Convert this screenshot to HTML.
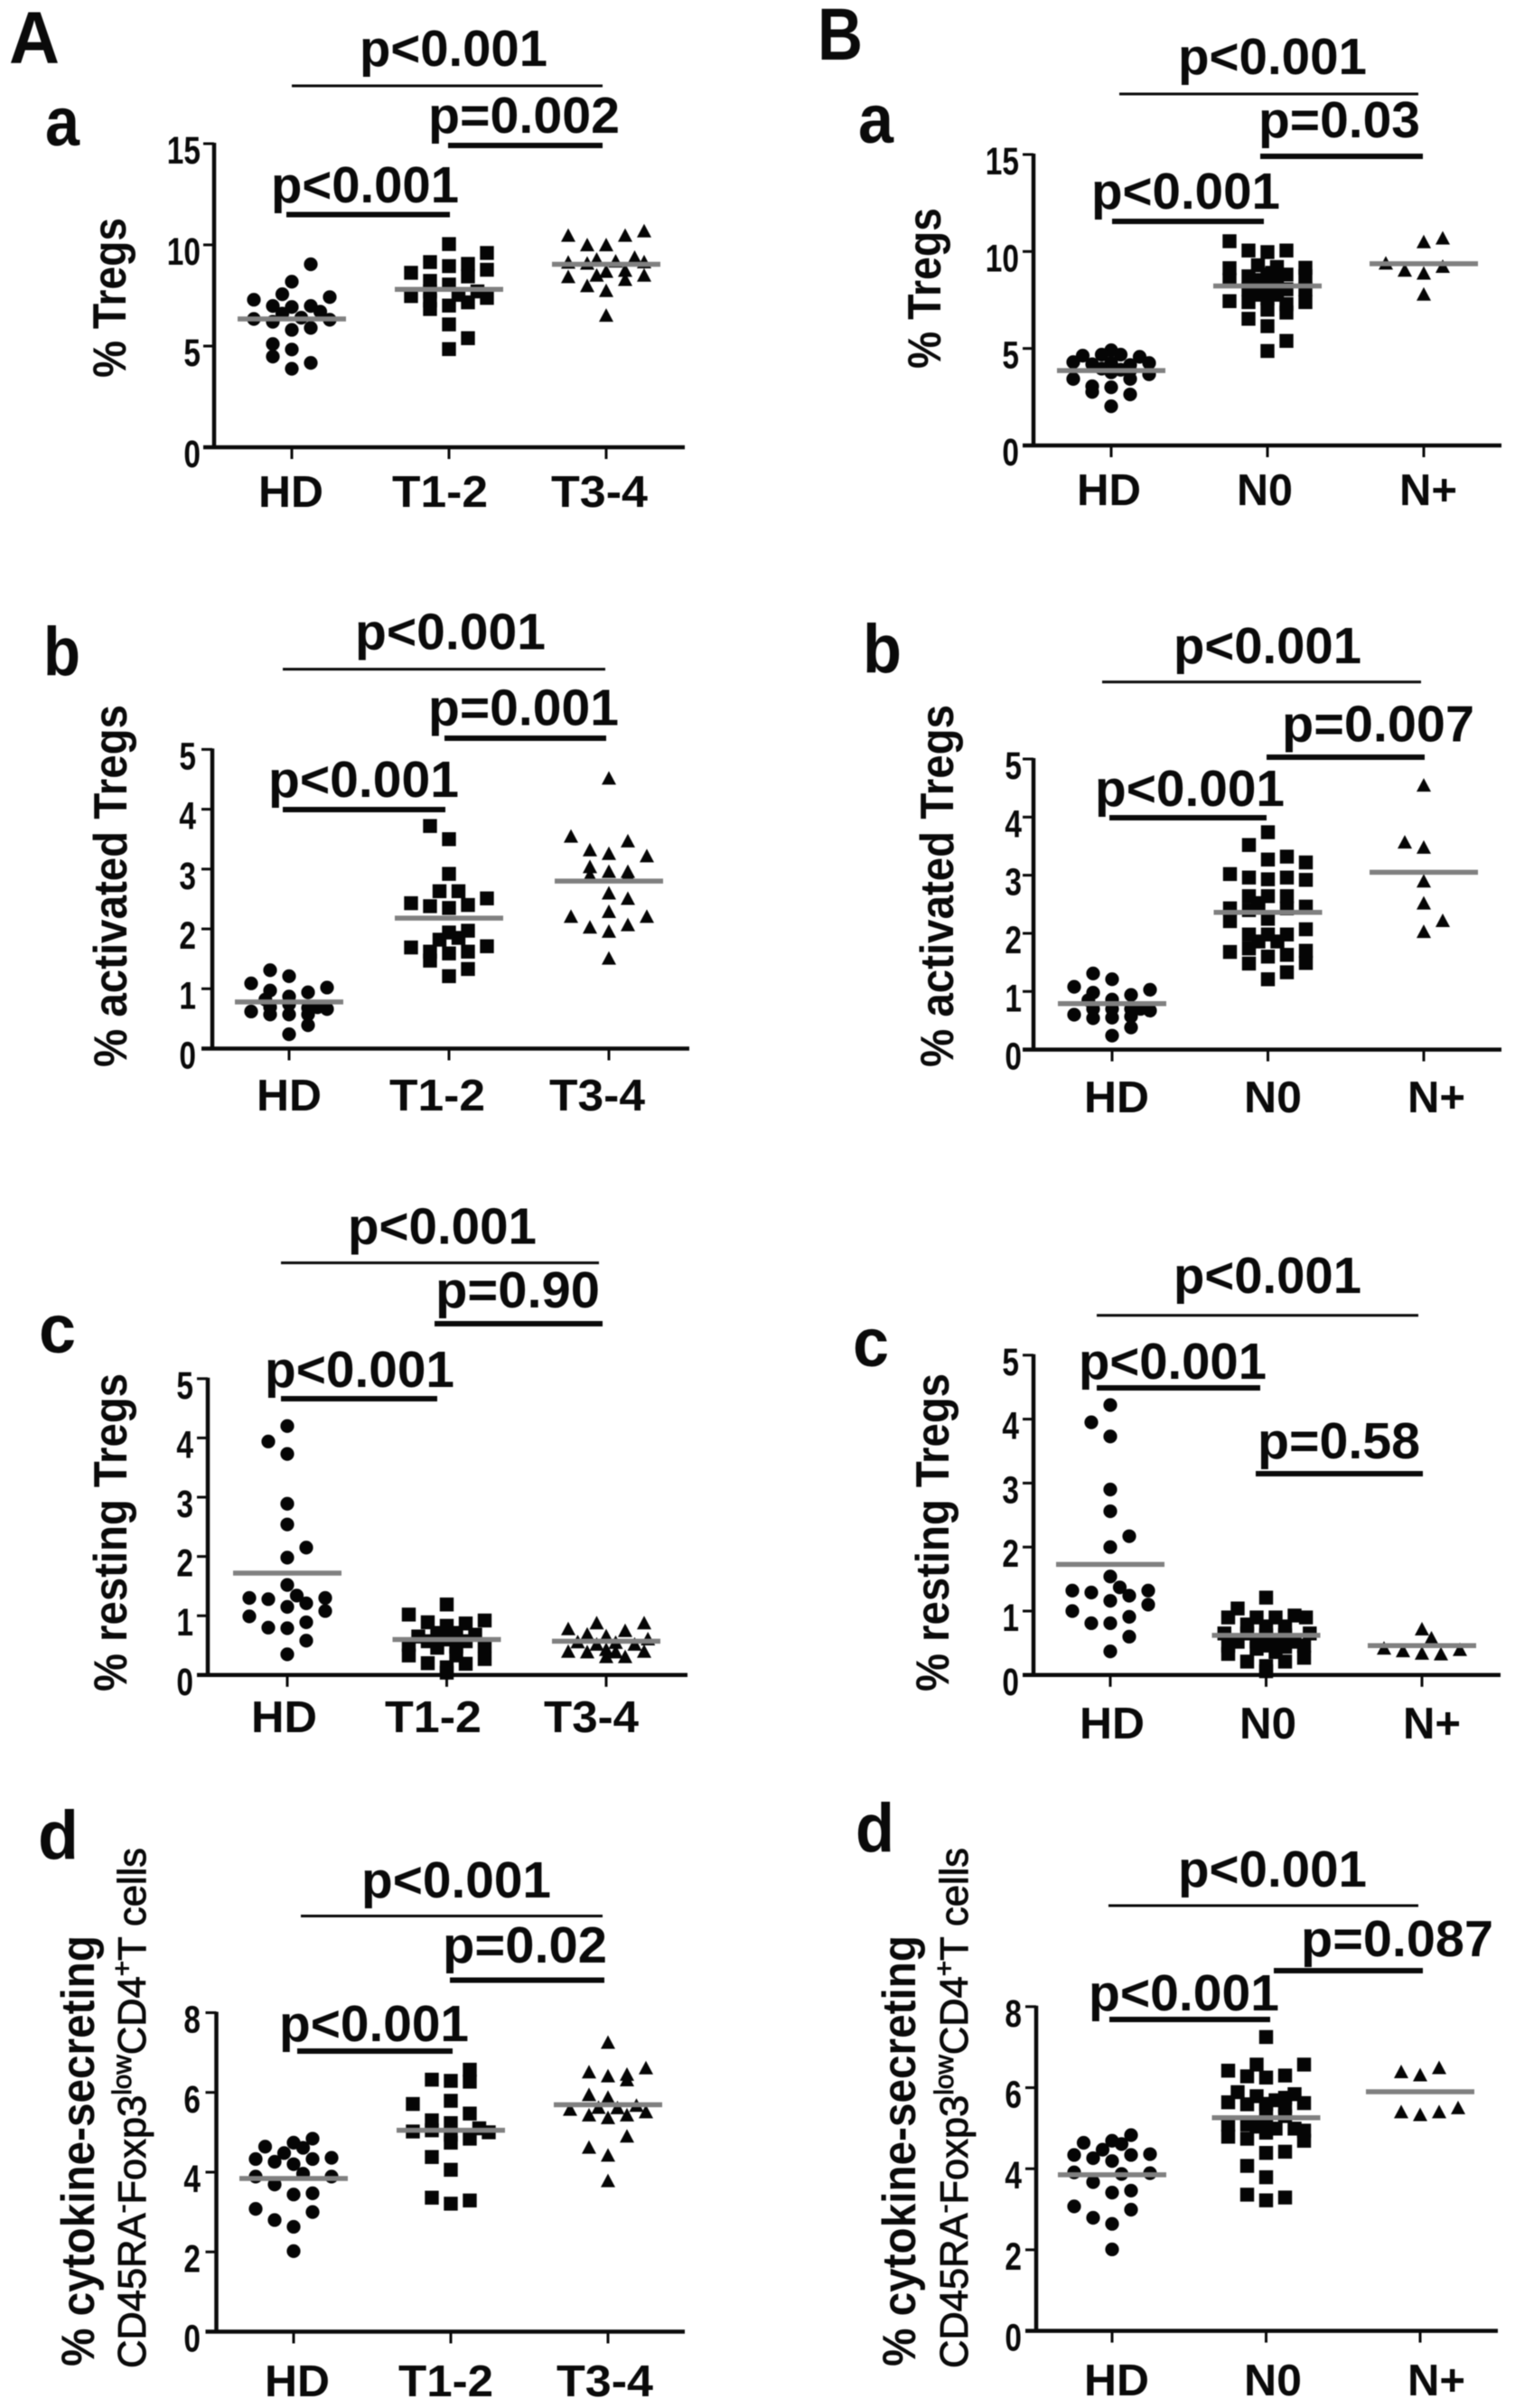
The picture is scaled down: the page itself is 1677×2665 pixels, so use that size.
<!DOCTYPE html>
<html lang="en">
<head>
<meta charset="utf-8">
<title>Treg percentages by group</title>
<style>
html,body{margin:0;padding:0;background:#fff;}
svg{display:block;filter:blur(.45px);}
text{font-family:"Liberation Sans",Arial,sans-serif;font-weight:bold;fill:#0a0a0a;}
</style>
</head>
<body>
<svg id="figure" xmlns="http://www.w3.org/2000/svg" width="1677" height="2665" viewBox="0 0 1677 2665"></svg>
<script>
// ---- shared categories and ticks ----
const categoriesStage = ['HD', 'T1-2', 'T3-4'];
const categoriesNode = ['HD', 'N0', 'N+'];
const ticksTregs = [0, 5, 10, 15];
const ticksFive = [0, 1, 2, 3, 4, 5];
const ticksCytokine = [0, 2, 4, 6, 8];

// ---- A-a ----
const aaHdValues = [9.04,8.18,7.56,7.42,7.29,6.98,6.93,6.98,6.7,6.6,6.34,6.2,6.4,6.3,5.8,5.9,5.1,4.83,4.48,4.17,3.88];
const aaHdSlots = [1,0,-.5,2,-2,-1,0,1,1.5,-.5,-2,-1,.5,2,0,1,-1,0,-1,1,0];
const aaT12Values = [10.04,9.6,9.15,9.06,8.95,8.77,8.62,8.44,8.22,8.04,7.7,7.7,7.47,7.38,7.25,7.53,7.16,7.0,6.83,6.07,5.39,4.85];
const aaT12Slots = [0,2,-1,1,0,2,-2,1,-1,0,-1,1.5,-2,2,-1,.5,1,0,-1,0,1,0];
const aaT34Values = [10.66,10.44,10.44,9.97,9.97,9.35,9.26,9.11,9.06,9.17,9.13,8.71,8.4,8.47,8.66,8.47,8.26,7.95,7.71,6.49];
const aaT34Slots = [2,-2,1,-1,0,1.5,-.5,-2,-1,.5,2,1,-2,-.5,0,2,1,-1,0,0];
const aaMeans = [6.34,7.8,9.04];

// ---- B-a ----
const baHdValues = [4.91,4.63,4.68,4.68,4.57,4.3,4.19,4.25,4.15,4.25,3.96,3.9,3.86,3.77,3.67,3.43,3.43,3.05,3.0,2.76,2.63,2.02];
const baHdSlots = [0,-1.5,-.5,.5,1.5,-2,-1,0,1,2,-.5,.5,1,0,2,-2,1,-1,0,-1,1,0];
const baN0Values = [10.53,10.05,9.97,10.05,9.14,9.29,9.2,9.16,8.81,8.72,8.81,8.72,8.53,8.53,8.62,8.24,8.05,8.05,8.05,7.77,7.77,7.44,7.39,7.39,7.58,7.29,7.0,6.85,6.53,6.15,5.39,4.87,8.9,8.4];
const baN0Slots = [-2,-1,0,1,-2,-.5,.5,2,0,-1,1,2,-2,-.5,.5,0,-1,1,2,-.5,.5,-2,2,-1,0,1,0,1,-1,0,1,0,.25,-.25];
const baNpValues = [10.66,10.47,9.37,9.2,9.0,8.85,7.77];
const baNpSlots = [1,0,-2,1,-1,0,0];
const baMeans = [3.86,8.22,9.37];

// ---- A-b ----
const abHdValues = [1.31,1.21,1.09,1.02,.97,.94,.87,.82,.62,.57,.57,.57,.66,.74,.68,.69,.39,.24,.69];
const abHdSlots = [-1,0,-2,2,-1,1,0,-1.25,-2,-1,0,1,2,0,1,-1,1,0,1.5];
const abT12Values = [3.72,3.5,2.92,2.63,2.63,2.51,2.43,2.38,2.4,2.35,1.97,1.94,1.82,1.85,1.71,1.69,1.62,1.62,1.59,1.47,1.33,1.21];
const abT12Slots = [-1,0,0,-.5,.5,2,-2,-1,1,0,1,0,-.5,.5,2,-2,1,-1,0,-1,1,0];
const abT34Values = [4.51,3.54,3.46,3.31,3.25,3.21,3.03,2.95,2.95,2.89,2.89,2.59,2.5,2.28,2.2,2.2,2.06,2.02,1.95,1.5];
const abT34Slots = [0,-2,1,-1,0,2,-1,0,1,-1,1,0,1,0,-2,2,1,-1,0,0];
const abMeans = [.78,2.18,2.8];

// ---- B-b ----
const bbHdValues = [1.31,1.21,1.08,1.03,.98,.94,.86,.85,.6,.54,.55,.57,.67,.7,.7,.7,.7,.38,.24];
const bbHdSlots = [-1,0,-2,2,-1,1,0,-1.25,-2,-1,0,1,2,0,1,-1,1.5,1,0];
const bbN0Values = [3.74,3.52,3.32,3.27,3.22,3.02,2.96,2.93,2.96,2.92,2.64,2.64,2.64,2.52,2.43,2.4,2.43,2.46,2.25,2.21,2.07,1.98,1.98,1.98,1.86,1.86,1.68,1.74,1.7,1.6,1.63,1.48,1.49,1.33,1.21];
const bbN0Slots = [0,-1,1,0,2,-2,-1,0,1,2,-1,0,1,-.5,-2,-1,1,2,0,-2,2,-1,0,1,-.5,.5,-2,-1,2,0,1,-1,2,1,0];
const bbNpValues = [4.54,3.56,3.47,2.89,2.51,2.21,2.02];
const bbNpSlots = [0,-1,0,0,0,1,0];
const bbMeans = [.79,2.36,3.05];

// ---- A-c ----
const acHdValues = [4.2,3.94,3.73,2.89,2.54,2.15,1.98,1.52,1.3,1.28,1.34,1.3,1.21,1.15,1.08,.99,.89,.8,.79,.58,.35];
const acHdSlots = [0,-1,0,0,0,1,0,0,-2,-1,.5,2,1,0,2,-2,1,-1,0,1,0];
const acT12Values = [1.19,1.02,.89,.92,.87,.83,.65,.71,.71,.68,.57,.6,.57,.51,.46,.48,.5,.33,.33,.2,.19,.27,.13,.04];
const acT12Slots = [0,-2,-1,2,1,0,-1.5,-.5,.5,1.5,-1,0,1,-2,-.5,.5,2,-2,.5,-1,1,2,0,0];
const acT34Values = [.87,.87,.77,.74,.68,.65,.6,.55,.51,.54,.51,.39,.38,.42,.38,.39,.3,.3];
const acT34Slots = [-.5,2,-2,1,-1,0,2.2,-1.5,-.5,.5,1.5,-2,-1,0,.5,2,0,1];
const acMeans = [1.72,.6,.57];

// ---- B-c ----
const bcHdValues = [4.22,3.95,3.73,2.9,2.56,2.17,2.0,1.54,1.32,1.29,1.37,1.32,1.24,1.16,1.1,1.0,.91,.81,.81,.6,.37];
const bcHdSlots = [0,-1,0,0,0,1,0,0,-2,-1,.5,2,1,0,2,-2,1,-1,0,1,0];
const bcN0Values = [1.21,1.04,.9,.9,.9,.93,.9,.79,.76,.76,.65,.65,.62,.62,.65,.52,.52,.52,.52,.46,.46,.46,.33,.36,.27,.21,.21,.14,.06,.41,.44];
const bcN0Slots = [0,-1.5,-2,-.5,.5,1.5,2.1,-1,0,1,-2.2,-1,0,1,2.3,-1.5,-.5,.5,1.5,-2,0,2,-2,.5,2,-1,1,0,0,-.5,1];
const bcNpValues = [.71,.57,.41,.37,.33,.32,.39];
const bcNpSlots = [0,.5,-2,-1,0,1,2];
const bcMeans = [1.73,.62,.46];

// ---- A-d ----
const adHdValues = [4.84,4.74,4.64,4.61,4.48,4.33,4.33,4.36,4.26,4.2,3.96,3.89,3.89,3.69,3.44,3.47,3.08,3.0,2.8,2.63,2.02];
const adHdSlots = [1,0,-1.5,.5,-.5,-2,1,2,-1,0,.5,-2,2,-1,0,1,-2,1,-1,0,0];
const adT12Values = [6.57,6.27,6.32,6.29,5.79,5.71,5.47,5.3,5.23,5.02,5.1,5.0,5.05,4.94,4.84,4.74,4.38,4.06,3.36,3.29,3.21];
const adT12Slots = [1,1,-1,0,0,-2,1,-1,0,-2,1.5,2,-1,0,1,0,-1,0,-1,1,0];
const adT34Values = [7.24,6.6,6.5,6.4,6.44,6.3,5.93,5.86,5.56,5.61,5.66,5.5,5.42,5.42,5.35,5.6,4.89,4.61,4.41,3.77];
const adT34Slots = [0,2,-1,0,1,1,-1,0,-2,-.5,1.5,2,-1,1,0,.5,1,-1,0,0];
const adMeans = [3.84,5.05,5.69];

// ---- B-d ----
const bdHdValues = [4.83,4.69,4.64,4.61,4.47,4.34,4.34,4.36,4.26,4.19,3.87,3.91,3.89,3.67,3.41,3.46,3.07,2.99,2.79,2.64,2.01];
const bdHdSlots = [1,0,-1.5,.5,-.5,-2,1,2,-1,0,.5,-2,2,-1,0,1,-2,1,-1,0,0];
const bdN0Values = [7.25,6.57,6.57,6.42,6.28,6.25,6.3,5.89,5.79,5.84,5.64,5.69,5.59,5.62,5.54,5.44,5.09,5.09,4.99,5.04,4.99,4.94,4.79,4.89,4.74,4.69,4.39,4.42,4.07,3.79,3.36,3.29,3.22,5.6,5.15,5.3,5.75];
const bdN0Slots = [0,2,-.5,-2,-1,0,1,-1.5,-.5,1.5,-2,.5,-1,2,1,0,-1,-2,.5,-.5,1.5,2,-2,0,-1,2,0,1,-1,0,-1,1,0,0,0,1,1];
const bdNpValues = [6.48,6.38,6.3,5.49,5.39,5.39,5.32];
const bdNpSlots = [1,-1,0,2,-1,1,0];
const bdMeans = [3.85,5.26,5.9];

// ---- drawing ----
const NS = 'http://www.w3.org/2000/svg';
const root = document.getElementById('figure');
const SLOT_W = 21, MEAN_HALF = 60;

function makeGroup(parent, name) {
  const g = document.createElementNS(NS, 'g');
  
  
  parent.appendChild(g);
  return g;
}
function line(parent, name, x1, y1, x2, y2, w, color) {
  const el = document.createElementNS(NS, 'line');
  el.setAttribute('x1', x1); el.setAttribute('y1', y1);
  el.setAttribute('x2', x2); el.setAttribute('y2', y2);
  el.setAttribute('stroke', color || '#0a0a0a');
  el.setAttribute('stroke-width', w);
  
  
  parent.appendChild(el);
  return el;
}
function label(parent, name, str, x, y, size, len) {
  const el = document.createElementNS(NS, 'text');
  el.setAttribute('x', x); el.setAttribute('y', y);
  el.setAttribute('font-size', size);
  if (len) { el.setAttribute('textLength', len); el.setAttribute('lengthAdjust', 'spacingAndGlyphs'); }
  el.textContent = str;
  
  
  parent.appendChild(el);
  return el;
}
function rotatedLabel(parent, name, str, x, yBottom, yTop, size) {
  const el = label(parent, name, str, 0, 0, size, yBottom - yTop);
  el.setAttribute('transform', 'translate(' + x + ' ' + yBottom + ') rotate(-90)');
  return el;
}
function marker(parent, shape, cx, cy) {
  let el;
  if (shape === 'circle') {
    el = document.createElementNS(NS, 'circle');
    el.setAttribute('cx', cx); el.setAttribute('cy', cy); el.setAttribute('r', 7.6);
  } else if (shape === 'square') {
    el = document.createElementNS(NS, 'rect');
    el.setAttribute('x', cx - 7.7); el.setAttribute('y', cy - 7.7);
    el.setAttribute('width', 15.4); el.setAttribute('height', 15.4);
  } else {
    el = document.createElementNS(NS, 'polygon');
    el.setAttribute('points', cx + ',' + (cy - 8.5) + ' ' + (cx + 8) + ',' + (cy + 6.5) + ' ' + (cx - 8) + ',' + (cy + 6.5));
  }
  el.setAttribute('fill', '#050505');
  
  
  parent.appendChild(el);
}

function drawPanel(p) {
  const g = makeGroup(root, 'panel-' + p.id);
  const yScale = v => p.y0 - v / p.yMax * (p.y0 - p.yTop);
  const xCat = i => p.x0 + i * p.step;

  // axes
  const axes = makeGroup(g, 'axes');
  line(axes, 'y-axis', p.axisX, p.yTop - 1, p.axisX, p.y0 + 1.5, 4.5);
  line(axes, 'x-axis', p.axisX - 12, p.y0, p.right, p.y0, 4.5);
  p.ticks.forEach((t, i) => {
    const y = yScale(t);
    if (t !== 0) line(axes, 'y-tick', p.axisX - 12, y, p.axisX, y, 3);
    const str = String(t);
    const w = str.length * 18.6;
    label(axes, 'y-tick-label', str, p.tickRight - w, y + 22, 43, w);
  });
  p.cats.forEach((c, i) => {
    line(axes, 'x-tick', xCat(i), p.y0, xCat(i), p.y0 + 13, 3);
    const lab = p.catBoxes[i];
    label(axes, 'x-category-label', c, lab[0], p.catBase, 49, lab[1] - lab[0]);
  });

  // series
  p.series.forEach((s, i) => {
    const sg = makeGroup(g, 'series-' + p.cats[i].toLowerCase().replace('+', '-pos'));
    s.values.forEach((v, k) => marker(sg, s.shape, xCat(i) + s.slots[k] * SLOT_W, yScale(v)));
    line(sg, 'mean-line', xCat(i) - MEAN_HALF, yScale(p.means[i]), xCat(i) + MEAN_HALF, yScale(p.means[i]), 5.5, '#808080');
  });

  // significance brackets
  const sig = makeGroup(g, 'significance');
  p.brackets.forEach(b => {
    line(sig, 'significance-bar', b.x1, b.y, b.x2, b.y, b.w);
    label(sig, 'p-value-label', b.text, b.tx1, b.base, 57, b.tx2 - b.tx1);
  });

  // titles
  label(g, 'panel-letter', p.letter[0], p.letter[1], p.letter[2], 76, p.letter[3]);
  p.titles(g);
}

label(root, 'section-a-label', 'A', 10, 70, 82, 56);
label(root, 'section-b-label', 'B', 905, 66, 82, 50);

function title2(g, x) {
  const el = document.createElementNS(NS, 'text');
  el.setAttribute('transform', 'translate(' + x + ' 2621) rotate(-90)');
  el.setAttribute('font-size', 44);
  el.setAttribute('textLength', 576);
  el.setAttribute('lengthAdjust', 'spacingAndGlyphs');
  el.setAttribute('style', 'font-weight:normal;stroke:#0a0a0a;stroke-width:.9px');
  
  
  const parts = [['CD45RA',0],['-',1],['Foxp3',0],['low',1],['CD4',0],['+',1],['T cells',0]];
  parts.forEach(part => {
    const t = document.createElementNS(NS, 'tspan');
    t.textContent = part[0];
    if (part[1]) { t.setAttribute('font-size', 30); t.setAttribute('dy', -16); }
    else if (el.childNodes.length) { t.setAttribute('dy', 16); }
    el.appendChild(t);
  });
  g.appendChild(el);
}

drawPanel({id:'a-a', axisX:237, y0:495, yTop:159, yMax:15, ticks:ticksTregs, tickRight:222, x0:323, step:174, right:758,
  cats:categoriesStage, catBoxes:[[286,358],[434,540],[610,717]], catBase:561,
  series:[{values:aaHdValues,slots:aaHdSlots,shape:'circle'},{values:aaT12Values,slots:aaT12Slots,shape:'square'},{values:aaT34Values,slots:aaT34Slots,shape:'triangle'}],
  means:aaMeans,
  brackets:[{x1:323,x2:667,y:95,w:3,text:'p<0.001',tx1:398,tx2:606,base:73},
            {x1:496,x2:667,y:161,w:6,text:'p=0.002',tx1:474,tx2:686,base:147},
            {x1:317,x2:498,y:237.5,w:6,text:'p<0.001',tx1:300,tx2:508,base:224}],
  letter:['a',50,161,38],
  titles:g=>{rotatedLabel(g,'y-axis-title','% Tregs',139,418,241,52);}});

drawPanel({id:'b-a', axisX:1144, y0:493, yTop:171, yMax:15, ticks:ticksTregs, tickRight:1128, x0:1230, step:173, right:1662,
  cats:categoriesNode, catBoxes:[[1192,1263],[1369,1431],[1549,1613]], catBase:559,
  series:[{values:baHdValues,slots:baHdSlots,shape:'circle'},{values:baN0Values,slots:baN0Slots,shape:'square'},{values:baNpValues,slots:baNpSlots,shape:'triangle'}],
  means:baMeans,
  brackets:[{x1:1239,x2:1570,y:104,w:3,text:'p<0.001',tx1:1304,tx2:1513,base:82},
            {x1:1395,x2:1575,y:173,w:6,text:'p=0.03',tx1:1393,tx2:1572,base:152},
            {x1:1231,x2:1399,y:245,w:6,text:'p<0.001',tx1:1208,tx2:1417,base:231}],
  letter:['a',950,158,39],
  titles:g=>{rotatedLabel(g,'y-axis-title','% Tregs',1041,408,230,52);}});

drawPanel({id:'a-b', axisX:235, y0:1160.5, yTop:829.4, yMax:5, ticks:ticksFive, tickRight:217, x0:320, step:177, right:763,
  cats:categoriesStage, catBoxes:[[284,356],[431,537],[608,714]], catBase:1229,
  series:[{values:abHdValues,slots:abHdSlots,shape:'circle'},{values:abT12Values,slots:abT12Slots,shape:'square'},{values:abT34Values,slots:abT34Slots,shape:'triangle'}],
  means:abMeans,
  brackets:[{x1:313,x2:670,y:740.6,w:3,text:'p<0.001',tx1:393,tx2:604,base:718.5},
            {x1:492,x2:671,y:817,w:6,text:'p=0.001',tx1:474,tx2:685,base:802.6},
            {x1:313,x2:493,y:896,w:6,text:'p<0.001',tx1:297,tx2:508,base:882}],
  letter:['b',48,747,41],
  titles:g=>{rotatedLabel(g,'y-axis-title','% activated Tregs',140,1181,780,52);}});

drawPanel({id:'b-b', axisX:1144, y0:1161.6, yTop:840, yMax:5, ticks:ticksFive, tickRight:1131, x0:1231, step:172.5, right:1662,
  cats:categoriesNode, catBoxes:[[1200,1272],[1377,1441],[1558,1622]], catBase:1231,
  series:[{values:bbHdValues,slots:bbHdSlots,shape:'circle'},{values:bbN0Values,slots:bbN0Slots,shape:'square'},{values:bbNpValues,slots:bbNpSlots,shape:'triangle'}],
  means:bbMeans,
  brackets:[{x1:1220,x2:1573,y:754.8,w:3,text:'p<0.001',tx1:1299,tx2:1507,base:733.8},
            {x1:1402,x2:1577,y:838,w:6,text:'p=0.007',tx1:1419,tx2:1632,base:820.6},
            {x1:1228,x2:1402,y:905,w:6,text:'p<0.001',tx1:1212,tx2:1422,base:892}],
  letter:['b',955,744,43],
  titles:g=>{rotatedLabel(g,'y-axis-title','% activated Tregs',1055,1181,780,52);}});

drawPanel({id:'a-c', axisX:230, y0:1853.8, yTop:1525.8, yMax:5, ticks:ticksFive, tickRight:214, x0:318, step:176.5, right:761,
  cats:categoriesStage, catBoxes:[[278,351],[426,533],[602,707]], catBase:1917,
  series:[{values:acHdValues,slots:acHdSlots,shape:'circle'},{values:acT12Values,slots:acT12Slots,shape:'square'},{values:acT34Values,slots:acT34Slots,shape:'triangle'}],
  means:acMeans,
  brackets:[{x1:311,x2:663,y:1397.6,w:3,text:'p<0.001',tx1:385,tx2:594,base:1376.5},
            {x1:481,x2:667,y:1465,w:6,text:'p=0.90',tx1:482,tx2:664,base:1447},
            {x1:311,x2:484,y:1548,w:6,text:'p<0.001',tx1:293,tx2:503,base:1535}],
  letter:['c',43,1497,41],
  titles:g=>{rotatedLabel(g,'y-axis-title','% resting Tregs',140,1872,1520,52);}});

drawPanel({id:'b-c', axisX:1144, y0:1853.8, yTop:1499.8, yMax:5, ticks:ticksFive, tickRight:1128, x0:1229, step:172.5, right:1661,
  cats:categoriesNode, catBoxes:[[1195,1267],[1372,1435],[1553,1617]], catBase:1924,
  series:[{values:bcHdValues,slots:bcHdSlots,shape:'circle'},{values:bcN0Values,slots:bcN0Slots,shape:'square'},{values:bcNpValues,slots:bcNpSlots,shape:'triangle'}],
  means:bcMeans,
  brackets:[{x1:1214,x2:1570,y:1455.8,w:3,text:'p<0.001',tx1:1299,tx2:1507,base:1431},
            {x1:1214,x2:1395,y:1536,w:6,text:'p<0.001',tx1:1194,tx2:1402,base:1526},
            {x1:1390,x2:1575,y:1631,w:6,text:'p=0.58',tx1:1392,tx2:1572,base:1614}],
  letter:['c',944,1512,40],
  titles:g=>{rotatedLabel(g,'y-axis-title','% resting Tregs',1050,1872,1520,52);}});

drawPanel({id:'a-d', axisX:239.5, y0:2580.5, yTop:2227.5, yMax:8, ticks:ticksCytokine, tickRight:222, x0:325, step:174, right:758,
  cats:categoriesStage, catBoxes:[[293,365],[441,546],[616,723]], catBase:2652,
  series:[{values:adHdValues,slots:adHdSlots,shape:'circle'},{values:adT12Values,slots:adT12Slots,shape:'square'},{values:adT34Values,slots:adT34Slots,shape:'triangle'}],
  means:adMeans,
  brackets:[{x1:333,x2:667,y:2120.5,w:3,text:'p<0.001',tx1:400,tx2:610,base:2100},
            {x1:498,x2:669,y:2191.5,w:6,text:'p=0.02',tx1:490,tx2:672,base:2172},
            {x1:329,x2:501,y:2270,w:6,text:'p<0.001',tx1:309,tx2:519,base:2259}],
  letter:['d',42,2057,45],
  titles:g=>{rotatedLabel(g,'y-axis-title','% cytokine-secreting',104,2619,2142,52);title2(g,161);}});

drawPanel({id:'b-d', axisX:1147, y0:2579.6, yTop:2220.8, yMax:8, ticks:ticksCytokine, tickRight:1131, x0:1231, step:170.5, right:1658,
  cats:categoriesNode, catBoxes:[[1200,1272],[1377,1441],[1558,1622]], catBase:2651,
  series:[{values:bdHdValues,slots:bdHdSlots,shape:'circle'},{values:bdN0Values,slots:bdN0Slots,shape:'square'},{values:bdNpValues,slots:bdNpSlots,shape:'triangle'}],
  means:bdMeans,
  brackets:[{x1:1227,x2:1570,y:2109,w:3,text:'p<0.001',tx1:1304,tx2:1513,base:2088},
            {x1:1410,x2:1575,y:2181,w:6,text:'p=0.087',tx1:1440,tx2:1653,base:2165},
            {x1:1228,x2:1406,y:2235,w:6,text:'p<0.001',tx1:1205,tx2:1416,base:2225}],
  letter:['d',947,2049,43],
  titles:g=>{rotatedLabel(g,'y-axis-title','% cytokine-secreting',1013,2619,2142,52);title2(g,1071);}});
</script>
</body>
</html>
